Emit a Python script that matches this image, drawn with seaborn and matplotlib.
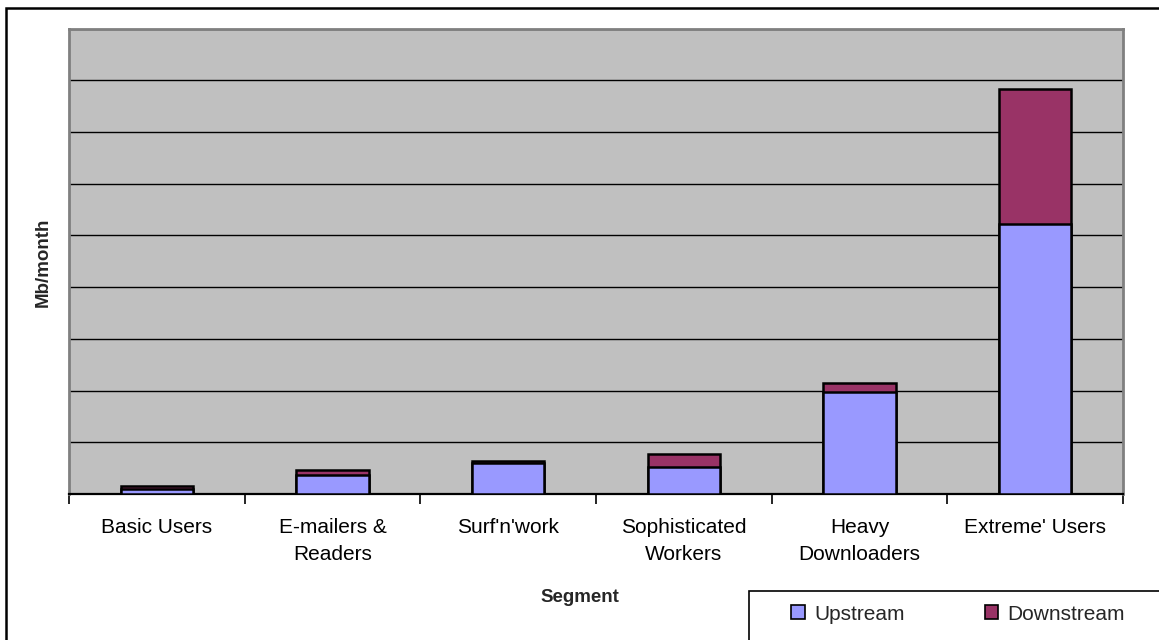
import matplotlib
matplotlib.use("Agg")
import matplotlib.pyplot as plt
from matplotlib.patches import Rectangle, Patch
from matplotlib.ticker import MultipleLocator, FixedLocator, NullFormatter
import seaborn as sns
import pandas as pd
import numpy as np

# Monthly traffic per user segment (Mb/month)
segments = ["Basic Users", "E-mailers &\nReaders", "Surf'n'work",
            "Sophisticated\nWorkers", "Heavy\nDownloaders", "Extreme' Users"]
upstream = [95, 370, 595, 530, 1965, 5215]
downstream = [60, 95, 50, 240, 190, 2620]

UP_COLOR = "#9999FF"
DOWN_COLOR = "#993366"

sns.set_theme(style="white")
plt.rcParams["font.family"] = ["Liberation Sans", "DejaVu Sans"]

df = pd.DataFrame({"Segment": segments, "Upstream": upstream,
                   "Downstream": downstream})
df["Total"] = df["Upstream"] + df["Downstream"]

W, H = 1159, 640
fig = plt.figure(figsize=(W / 100, H / 100), dpi=100)
ax = fig.add_axes([69 / W, 1 - 494 / H, (1123 - 69) / W, (494 - 28.7) / H])
ax.set_facecolor("#C0C0C0")

# Stacked bars: total height in the downstream colour, upstream drawn over it
sns.barplot(data=df, x="Segment", y="Total", color=DOWN_COLOR, width=0.41,
            saturation=1, edgecolor="black", linewidth=1.8, ax=ax, zorder=3)
sns.barplot(data=df, x="Segment", y="Upstream", color=UP_COLOR, width=0.41,
            saturation=1, edgecolor="black", linewidth=1.8, ax=ax, zorder=4)

ax.set_xlim(-0.5, len(segments) - 0.5)
ax.set_ylim(0, 9000)
ax.yaxis.set_major_locator(MultipleLocator(1000))
ax.yaxis.set_major_formatter(NullFormatter())
ax.tick_params(axis="y", length=0)
ax.grid(axis="y", color="black", linewidth=1.0, zorder=1)
ax.set_axisbelow(True)

ax.xaxis.set_minor_locator(FixedLocator(np.arange(-0.5, len(segments), 1.0)))
ax.tick_params(axis="x", which="major", length=0, pad=17, labelsize=15,
               colors="black")
ax.tick_params(axis="x", which="minor", length=7, width=1.2, color="black",
               direction="out", bottom=True)
for lab in ax.get_xticklabels():
    lab.set_linespacing(1.55)

for side in ("left", "top", "right"):
    ax.spines[side].set_visible(True)
    ax.spines[side].set_color("#808080")
    ax.spines[side].set_linewidth(2.0)
ax.spines["bottom"].set_visible(True)
ax.spines["bottom"].set_color("black")
ax.spines["bottom"].set_linewidth(1.6)

ax.set_xlabel("")
ax.set_ylabel("")
fig.text(580 / W, 1 - 598 / H, "Segment", ha="center", va="center",
         fontsize=13.5, fontweight="bold")
fig.text(43 / W, 1 - 262 / H, "Mb/month", ha="center", va="center",
         rotation=90, fontsize=13.5, fontweight="bold")

# Chart frame
fig.add_artist(Rectangle((5.5 / W, -0.1), 1.2, 1.1 - 8.5 / H,
                         transform=fig.transFigure, fill=False,
                         edgecolor="black", linewidth=1.8))

# Legend box
fig.add_artist(Rectangle((749 / W, -0.1), 1.0, 0.1 + 1 - 591 / H,
                         transform=fig.transFigure, fill=False,
                         edgecolor="black", linewidth=1.2))
handles = [Patch(facecolor=UP_COLOR, edgecolor="black", linewidth=1.2),
           Patch(facecolor=DOWN_COLOR, edgecolor="black", linewidth=1.2)]
fig.legend(handles, ["Upstream", "Downstream"], loc="center left",
           bbox_to_anchor=(791 / W, 1 - 614 / H), ncol=2, frameon=False,
           fontsize=15, handlelength=0.65, handleheight=0.65,
           handletextpad=0.45, columnspacing=3.85, borderpad=0,
           borderaxespad=0)

fig.savefig("out.png", dpi=100)
